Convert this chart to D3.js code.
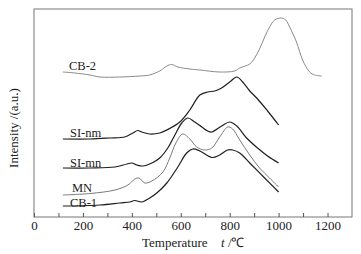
<!DOCTYPE html>
<html><head><meta charset="utf-8">
<script src="https://cdn.jsdelivr.net/npm/d3@7"></script>
<style>body{margin:0;background:#fff}svg{display:block}text{font-family:"Liberation Serif","Times New Roman",serif;fill:#222}</style>
</head><body><svg id="c" width="361" height="254"></svg>
<script>
// Temperature (°C) and intensity (a.u.)
const seriesNames = ["CB-2", "SI-nm", "SI-mn", "MN", "CB-1"];
const cb2T = [118,167,229,269,351,433,473,514,543,563,588,637,678,759,820,841,882,902,922,943,963,984,1012,1029,1045,1073,1098,1127,1147,1176];
const cb2I = [145,144,142,140,140,141,142,146,151,152.5,150,148,147,145,146,149,153,159,168,180,190,197,199,197,190,175,157,145,142,141];
const sinmT = [118,229,310,371,404,424,441,473,514,543,596,637,678,710,739,767,800,829,853,882,914,955,1000];
const sinmI = [78,78,79,80,84,86.5,85,83,84,87,95,107,122,125,126,129,135,140,135,126,118,106,92];
const simnT = [118,229,331,380,400,420,445,482,514,547,576,604,629,657,686,710,727,767,800,829,869,914,955,1000];
const simnI = [49,49,50,53,54,52,51,54,59,69,82,94,99,95,90,86,85,91,95,91,79,69,61,54];
const mnT = [118,229,331,384,412,429,453,482,527,555,580,608,637,665,698,727,759,792,812,841,882,922,963,1000];
const mnI = [22,23.5,27,32,38,39,34,36,45,59,74,83,78,70,67,69,80,90,88,77,62,49,39,30];
const cb1T = [118,269,351,392,412,441,473,502,543,588,624,649,678,727,759,792,812,841,882,943,1000];
const cb1I = [11,12,14,15,16.5,15,19,24,34,50,64,68,66,59.5,62,67,67,64,54,39,25];
const xTicks = [0,200,400,600,800,1000,1200];
const xMinor = [100,300,500,700,900,1100];

const svg = d3.select("#c");
const L=34, R=352, T=9, B=217;
const x = d3.scaleLinear().domain([0,1300]).range([L,R]);
const y = d3.scaleLinear().domain([0,208]).range([B,T]);

// frame
svg.append("rect").attr("x",L).attr("y",T).attr("width",R-L).attr("height",B-T)
  .attr("fill","none").attr("stroke","#777").attr("stroke-width",1);

// x axis ticks (inward)
const ax = d3.axisBottom(x).tickValues(xTicks).tickFormat(d3.format("d")).tickSizeInner(-4).tickSizeOuter(0).tickPadding(4);
const g = svg.append("g").attr("transform",`translate(0,${B})`).call(ax);
g.select(".domain").remove();
g.selectAll("line").attr("stroke","#555");
g.selectAll("text").style("font-family",'"Liberation Serif",serif').style("font-size","13px").attr("fill","#222");
const gm = svg.append("g").attr("transform",`translate(0,${B})`)
  .call(d3.axisBottom(x).tickValues(xMinor).tickSizeInner(-4).tickSizeOuter(0).tickFormat(""));
gm.select(".domain").remove();
gm.selectAll("line").attr("stroke","#555");

const series = [
  {name:seriesNames[0], T:cb2T, I:cb2I, color:"#8a8a8a", w:1.0, lx:69, ly:70},
  {name:seriesNames[1], T:sinmT, I:sinmI, color:"#1e1e1e", w:1.2, lx:70, ly:137},
  {name:seriesNames[2], T:simnT, I:simnI, color:"#1e1e1e", w:1.2, lx:70, ly:167},
  {name:seriesNames[3], T:mnT, I:mnI, color:"#7a7a7a", w:1.0, lx:72, ly:192},
  {name:seriesNames[4], T:cb1T, I:cb1I, color:"#1e1e1e", w:1.2, lx:70, ly:207}
];
const line = d3.line().x(d=>x(d[0])).y(d=>y(d[1])).curve(d3.curveCatmullRom.alpha(0.5));
series.forEach(s=>{
  const pts = s.T.map((t,i)=>[t,s.I[i]]);
  svg.append("path").attr("d",line(pts)).attr("fill","none").attr("stroke",s.color).attr("stroke-width",s.w);
  svg.append("text").attr("x",s.lx).attr("y",s.ly).style("font-size","12.5px").text(s.name);
});

// axis titles
const xt = svg.append("text").attr("x",142).attr("y",247).style("font-size","13px");
xt.append("tspan").text("Temperature");
xt.append("tspan").attr("x",221).style("font-style","italic").text("t");
xt.append("tspan").text(" /℃");
svg.append("text").attr("transform","translate(18,128) rotate(-90)").attr("text-anchor","middle")
  .style("font-size","13px").text("Intensity /(a.u.)");
</script></body></html>
